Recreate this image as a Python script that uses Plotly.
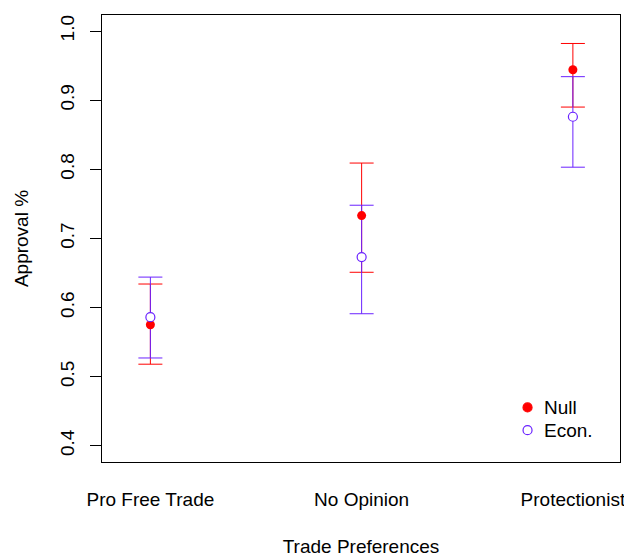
import plotly.graph_objects as go

categories = ["Pro Free Trade", "No Opinion", "Protectionist"]
x_pos = [1, 2, 3]

null_mean = [0.575, 0.733, 0.944]
null_upper = [0.634, 0.809, 0.982]
null_lower = [0.518, 0.651, 0.890]

econ_mean = [0.586, 0.673, 0.876]
econ_upper = [0.644, 0.748, 0.934]
econ_lower = [0.527, 0.591, 0.803]

y_ticks = [0.4, 0.5, 0.6, 0.7, 0.8, 0.9, 1.0]

legend_names = ["Null", "Econ."]

RED = "#FF0000"
BLUE = "#6A22FF"
FONT = "Liberation Sans, Arial, Helvetica, sans-serif"
FS = 19

def err(mean, up, lo):
    return dict(type="data", symmetric=False,
                array=[u - m for u, m in zip(up, mean)],
                arrayminus=[m - l for m, l in zip(mean, lo)])

fig = go.Figure()
e1 = err(null_mean, null_upper, null_lower)
e1.update(color=RED, thickness=1, width=12)
fig.add_trace(go.Scatter(x=x_pos, y=null_mean, mode="markers",
                         marker=dict(size=1, color="rgba(0,0,0,0)"),
                         error_y=e1, showlegend=False, hoverinfo="skip"))
e2 = err(econ_mean, econ_upper, econ_lower)
e2.update(color=BLUE, thickness=1, width=12)
fig.add_trace(go.Scatter(x=x_pos, y=econ_mean, mode="markers",
                         marker=dict(size=1, color="rgba(0,0,0,0)"),
                         error_y=e2, showlegend=False, hoverinfo="skip"))
fig.add_trace(go.Scatter(x=x_pos, y=null_mean, mode="markers", name=legend_names[0],
                         showlegend=False,
                         marker=dict(symbol="circle", size=9, color=RED,
                                     line=dict(width=0))))
fig.add_trace(go.Scatter(x=x_pos, y=econ_mean, mode="markers", name=legend_names[1],
                         showlegend=False,
                         marker=dict(symbol="circle", size=9, color="white",
                                     line=dict(width=1.2, color=BLUE))))

# manual legend (bottom-right, no box)
leg_x = 0.8215
leg_tx = 0.8503
leg_y = [0.1222, 0.0711]
leg_fill = [RED, "white"]
leg_line = [RED, BLUE]
for name, yy, fc, lc in zip(legend_names, leg_y, leg_fill, leg_line):
    fig.add_shape(type="circle", xref="paper", yref="paper",
                  xsizemode="pixel", ysizemode="pixel",
                  xanchor=leg_x, yanchor=yy,
                  x0=-4.5, x1=4.5, y0=-4.5, y1=4.5,
                  fillcolor=fc, line=dict(color=lc, width=1.2))
    fig.add_annotation(x=leg_tx, y=yy, xref="paper", yref="paper",
                       text=name, showarrow=False, xanchor="left", yanchor="middle",
                       font=dict(size=FS, family=FONT, color="black"))

fig.update_layout(
    width=624, height=551,
    margin=dict(l=94, r=9, t=6, b=95),
    paper_bgcolor="white", plot_bgcolor="white",
    font=dict(family=FONT, size=FS, color="black"),
    showlegend=False,
)
fig.update_xaxes(
    range=[0.771, 3.223], tickmode="array", tickvals=x_pos, ticktext=categories,
    ticks="", showline=True, mirror=True, linecolor="black", linewidth=1,
    showgrid=False, zeroline=False, ticklabelstandoff=20,
    title=dict(text="Trade Preferences", standoff=30, font=dict(size=FS)),
)
fig.update_yaxes(
    range=[0.3765, 1.0232], tickmode="array", tickvals=y_ticks,
    ticktext=[f"{v:.1f}" for v in y_ticks], tickangle=-90,
    ticks="outside", ticklen=11, tickcolor="black", tickwidth=1,
    showline=True, mirror=True, linecolor="black", linewidth=1,
    showgrid=False, zeroline=False, ticklabelstandoff=8,
    title=dict(text="Approval %", standoff=23, font=dict(size=FS)),
)

fig.write_html("out.html")
